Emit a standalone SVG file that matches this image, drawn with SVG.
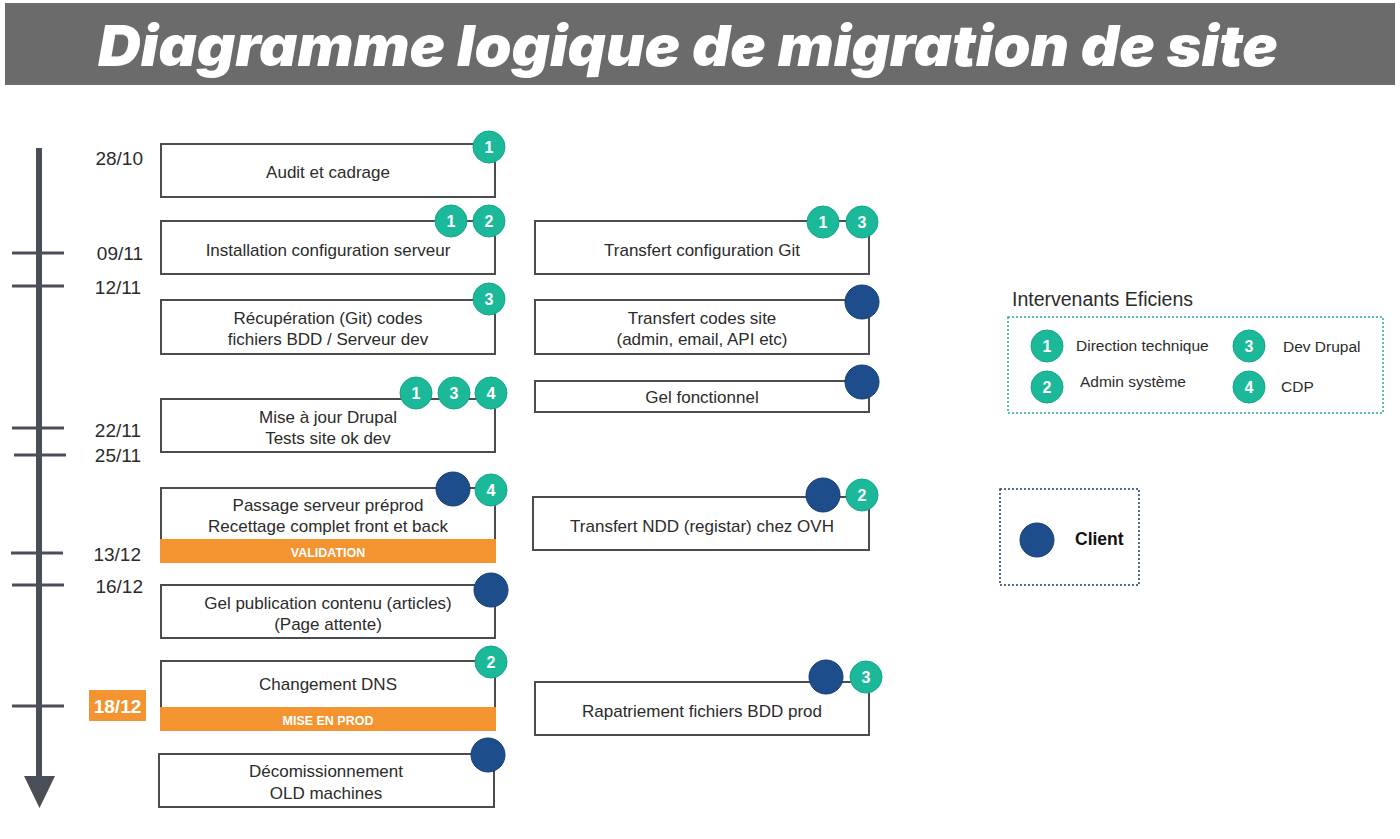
<svg xmlns="http://www.w3.org/2000/svg" width="1400" height="839" viewBox="0 0 1400 839">
<style>
.box{fill:#fff;stroke:#4a4c50;stroke-width:2}
.t{font-family:"Liberation Sans",Arial,sans-serif;font-size:17px;fill:#2b2b2b;text-anchor:middle}
.d{font-family:"Liberation Sans",Arial,sans-serif;font-size:19px;fill:#2b2b2b;text-anchor:end}
.tick{stroke:#4a4f57;stroke-width:3}
.band{fill:#f39430}
.bt{font-family:"Liberation Sans",Arial,sans-serif;font-size:12.5px;font-weight:bold;fill:#fff;text-anchor:middle}
.g{fill:#1bb99a;stroke:#15a588;stroke-width:1}
.c{fill:#1d4d8a;stroke:#163d70;stroke-width:1}
.n{font-family:"Liberation Sans",Arial,sans-serif;font-size:16px;font-weight:bold;fill:#fff;text-anchor:middle}
.l{font-family:"Liberation Sans",Arial,sans-serif;font-size:15.5px;fill:#2b2b2b}
</style>
<rect width="1400" height="839" fill="#fff"/>
<g id="title">
<rect x="5" y="3" width="1390" height="82" fill="#6b6b6b"/>
<text x="688" y="66" font-family="Inter, Lato, 'DejaVu Sans', sans-serif" font-size="56" font-weight="900" font-style="italic" fill="#fff" text-anchor="middle" textLength="1180" lengthAdjust="spacingAndGlyphs">Diagramme logique de migration de site</text>
</g>
<g id="timeline">
<line x1="39" y1="148" x2="39" y2="782" stroke="#4a4f57" stroke-width="6"/>
<polygon points="24,776 55,776 39.5,808" fill="#4a4f57"/>
<line class="tick" x1="12" y1="253" x2="64" y2="253"/>
<line class="tick" x1="12" y1="286" x2="64" y2="286"/>
<line class="tick" x1="12" y1="428" x2="64" y2="428"/>
<line class="tick" x1="14" y1="455" x2="66" y2="455"/>
<line class="tick" x1="11" y1="553" x2="63" y2="553"/>
<line class="tick" x1="12" y1="585" x2="64" y2="585"/>
<line class="tick" x1="12" y1="706" x2="64" y2="706"/>
<text class="d" x="143" y="165">28/10</text>
<text class="d" x="143" y="260">09/11</text>
<text class="d" x="141" y="294">12/11</text>
<text class="d" x="141" y="437">22/11</text>
<text class="d" x="141" y="462">25/11</text>
<text class="d" x="141" y="561">13/12</text>
<text class="d" x="143" y="593">16/12</text>
<rect x="89" y="690" width="57" height="31" class="band"/>
<text x="117.5" y="713" font-family="Liberation Sans, Arial, sans-serif" font-size="19" font-weight="bold" fill="#fff" text-anchor="middle">18/12</text>
</g>
<g id="audit">
<rect class="box" x="161" y="144" width="334" height="53"/>
<text class="t" x="328" y="178">Audit et cadrage</text>
<circle class="g" cx="489" cy="147" r="16"/><text class="n" x="489" y="153">1</text>
</g>
<g id="installation">
<rect class="box" x="161" y="221" width="334" height="53"/>
<text class="t" x="328" y="256">Installation configuration serveur</text>
<circle class="g" cx="451" cy="221" r="16"/><text class="n" x="451" y="227">1</text>
<circle class="g" cx="489" cy="221" r="16"/><text class="n" x="489" y="227">2</text>
</g>
<g id="recuperation">
<rect class="box" x="161" y="300" width="334" height="54"/>
<text class="t" x="328" y="324">Récupération (Git) codes</text>
<text class="t" x="328" y="345">fichiers BDD / Serveur dev</text>
<circle class="g" cx="489" cy="299" r="16"/><text class="n" x="489" y="305">3</text>
</g>
<g id="miseajour">
<rect class="box" x="161" y="399" width="334" height="53"/>
<text class="t" x="328" y="423">Mise à jour Drupal</text>
<text class="t" x="328" y="444">Tests site ok dev</text>
<circle class="g" cx="416" cy="393" r="16"/><text class="n" x="416" y="399">1</text>
<circle class="g" cx="454" cy="393" r="16"/><text class="n" x="454" y="399">3</text>
<circle class="g" cx="491" cy="393" r="16"/><text class="n" x="491" y="399">4</text>
</g>
<g id="passage">
<rect class="box" x="161" y="488" width="334" height="60"/>
<text class="t" x="328" y="511">Passage serveur préprod</text>
<text class="t" x="328" y="532">Recettage complet front et back</text>
<rect class="band" x="160" y="539" width="336" height="24"/>
<text class="bt" x="328" y="557">VALIDATION</text>
<circle class="c" cx="453" cy="489" r="17"/>
<circle class="g" cx="491" cy="490" r="16"/><text class="n" x="491" y="496">4</text>
</g>
<g id="gelpublication">
<rect class="box" x="161" y="585" width="334" height="53"/>
<text class="t" x="328" y="609">Gel publication contenu (articles)</text>
<text class="t" x="328" y="630">(Page attente)</text>
<circle class="c" cx="491" cy="590" r="17"/>
</g>
<g id="dns">
<rect class="box" x="161" y="661" width="334" height="55"/>
<text class="t" x="328" y="690">Changement DNS</text>
<rect class="band" x="160" y="707" width="336" height="24"/>
<text class="bt" x="328" y="725">MISE EN PROD</text>
<circle class="g" cx="491" cy="662" r="16"/><text class="n" x="491" y="668">2</text>
</g>
<g id="decom">
<rect class="box" x="159" y="754" width="335" height="53"/>
<text class="t" x="326" y="777">Décomissionnement</text>
<text class="t" x="326" y="799">OLD machines</text>
<circle class="c" cx="488" cy="755" r="17"/>
</g>
<g id="gitconf">
<rect class="box" x="535" y="221" width="334" height="53"/>
<text class="t" x="702" y="256">Transfert configuration Git</text>
<circle class="g" cx="823" cy="222" r="16"/><text class="n" x="823" y="228">1</text>
<circle class="g" cx="862" cy="222" r="16"/><text class="n" x="862" y="228">3</text>
</g>
<g id="codessite">
<rect class="box" x="535" y="300" width="334" height="54"/>
<text class="t" x="702" y="324">Transfert codes site</text>
<text class="t" x="702" y="345">(admin, email, API etc)</text>
<circle class="c" cx="862" cy="302" r="17"/>
</g>
<g id="gelfonc">
<rect class="box" x="535" y="381" width="334" height="31"/>
<text class="t" x="702" y="403">Gel fonctionnel</text>
<circle class="c" cx="862" cy="382" r="17"/>
</g>
<g id="ndd">
<rect class="box" x="533" y="497" width="336" height="53"/>
<text class="t" x="702" y="532">Transfert NDD (registar) chez OVH</text>
<circle class="c" cx="823" cy="495" r="17"/>
<circle class="g" cx="862" cy="495" r="16"/><text class="n" x="862" y="501">2</text>
</g>
<g id="rapatriement">
<rect class="box" x="535" y="682" width="334" height="53"/>
<text class="t" x="702" y="717">Rapatriement fichiers BDD prod</text>
<circle class="c" cx="826" cy="677" r="17"/>
<circle class="g" cx="866" cy="677" r="16"/><text class="n" x="866" y="683">3</text>
</g>
<g id="legend">
<text x="1012" y="306" font-family="Liberation Sans, Arial, sans-serif" font-size="19.5" fill="#2b2b2b">Intervenants Eficiens</text>
<rect x="1008" y="317" width="375" height="96" fill="none" stroke="#2aa99a" stroke-width="1.5" stroke-dasharray="2,2"/>
<circle class="g" cx="1047" cy="346" r="16"/><text class="n" x="1047" y="352">1</text>
<circle class="g" cx="1047" cy="387" r="16"/><text class="n" x="1047" y="393">2</text>
<circle class="g" cx="1249" cy="346" r="16"/><text class="n" x="1249" y="352">3</text>
<circle class="g" cx="1249" cy="387" r="16"/><text class="n" x="1249" y="393">4</text>
<text class="l" x="1076" y="351">Direction technique</text>
<text class="l" x="1080" y="387">Admin système</text>
<text class="l" x="1283" y="352">Dev Drupal</text>
<text class="l" x="1281" y="392">CDP</text>
</g>
<g id="client-legend">
<rect x="1000" y="489" width="139" height="96" fill="none" stroke="#1d3d6a" stroke-width="1.5" stroke-dasharray="2,2"/>
<circle class="c" cx="1037" cy="540" r="17"/>
<text x="1075" y="545" font-family="Liberation Sans, Arial, sans-serif" font-size="17.5" font-weight="bold" fill="#111">Client</text>
</g>
<g id="connectors"></g>
</svg>
